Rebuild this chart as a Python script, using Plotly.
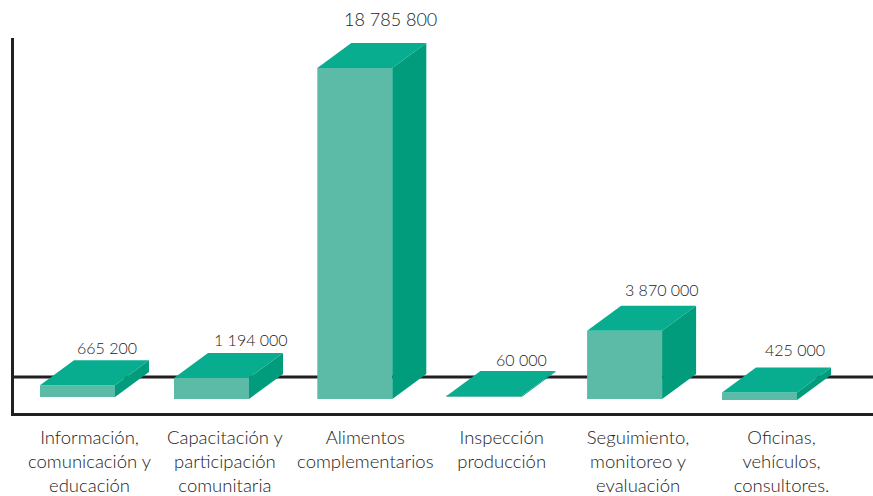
import plotly.graph_objects as go

categories = [
    "Información,<br>comunicación y<br>educación",
    "Capacitación y<br>participación<br>comunitaria",
    "Alimentos<br>complementarios",
    "Inspección<br>producción",
    "Seguimiento,<br>monitoreo y<br>evaluación",
    "Oficinas,<br>vehículos,<br>consultores.",
]
values = [665200, 1194000, 18785800, 60000, 3870000, 425000]
value_labels = ["665 200", "1 194 000", "18 785 800", "60 000", "3 870 000", "425 000"]

# Layout constants (pixels in the 873x496 window)
W, H = 873, 496
L, R, T, B = 14, 873, 38, 413
BASE_PX = 399
PX_PER_UNIT = 331 / 18785800
SLOT_PX = 136.4
FIRST_CENTER_PX = 77.5
BAR_PX = 75
DEPTH_X_PX, DEPTH_Y_PX = 34, 25
FLOOR_PX = 377
nudge_x_px = [0, -2.4, 4.5, -2.7, 1.5, 0]
nudge_base_px = [-2, 0, 0, -2, 0, 1]
label_gap_px = [4, 5, 14, 3, 8, 10]
label_shift_px = [-5, 5, 2, 3, 3, 1]
label_size = [16, 16, 18, 16, 16, 16]
tick_shift_px = [12, 11, 15, 15, 15, 22]

FRONT, TOP, SIDE, INK, TEXT = "#5cbba6", "#08ac8e", "#009c7c", "#231f20", "#222222"
FONT = "Lato"

ux = 1 / SLOT_PX
uy = 1 / PX_PER_UNIT
idx = list(range(len(values)))
xc = [i + n * ux for i, n in zip(idx, nudge_x_px)]
bases = [-n * uy for n in nudge_base_px]
hw = BAR_PX * ux / 2
dx, dy = DEPTH_X_PX * ux, DEPTH_Y_PX * uy

fig = go.Figure()
for x, v, b in zip(xc, values, bases):
    top = b + v
    fig.add_trace(go.Scatter(
        x=[x + hw, x + hw + dx, x + hw + dx, x + hw, x + hw],
        y=[b, b + dy, top + dy, top, b],
        mode="lines", line=dict(width=0), fill="toself", fillcolor=SIDE,
        hoverinfo="skip", showlegend=False))
    fig.add_trace(go.Scatter(
        x=[x - hw, x + hw, x + hw + dx, x - hw + dx, x - hw],
        y=[top, top, top + dy, top + dy, top],
        mode="lines", line=dict(width=0), fill="toself", fillcolor=TOP,
        hoverinfo="skip", showlegend=False))
fig.add_trace(go.Bar(x=xc, y=values, base=bases, width=BAR_PX * ux,
                     marker=dict(color=FRONT, line=dict(width=0)), showlegend=False,
                     hoverinfo="skip"))

for x, v, b, lab, gap, sh, size in zip(xc, values, bases, value_labels, label_gap_px,
                                       label_shift_px, label_size):
    fig.add_annotation(x=x + dx, y=b + v + dy, text=lab, showarrow=False,
                       xanchor="center", yanchor="bottom", yshift=gap - 3, xshift=sh,
                       font=dict(family=FONT, size=size, color=TEXT, weight=300))

fig.add_shape(type="line", xref="paper", x0=0, x1=1, yref="y",
              y0=(BASE_PX - FLOOR_PX) * uy, y1=(BASE_PX - FLOOR_PX) * uy,
              line=dict(color=INK, width=3), layer="below")

x_min = (L - FIRST_CENTER_PX) * ux
x_max = (R - FIRST_CENTER_PX) * ux
fig.update_layout(
    width=W, height=H, autosize=False,
    margin=dict(l=L, r=W - R, t=T, b=H - B, pad=0, autoexpand=False),
    paper_bgcolor="white", plot_bgcolor="white",
    barmode="overlay", showlegend=False,
    xaxis=dict(range=[x_min, x_max], automargin=False, showgrid=False, zeroline=False,
               showline=True, linecolor=INK, linewidth=3, ticks="",
               tickmode="array",
               tickvals=[i + s * ux for i, s in zip(idx, tick_shift_px)],
               ticktext=categories, tickangle=0, ticklabelstandoff=6,
               tickfont=dict(family=FONT, size=18.5, color=TEXT, weight=300)),
    yaxis=dict(range=[(BASE_PX - B) * uy, (BASE_PX - T) * uy], automargin=False,
               showgrid=False, zeroline=False, showline=True, linecolor=INK, linewidth=3,
               ticks="", showticklabels=False),
)
fig.write_html("out.html", config={"displayModeBar": False},
               post_script="document.body.style.margin='0';")
